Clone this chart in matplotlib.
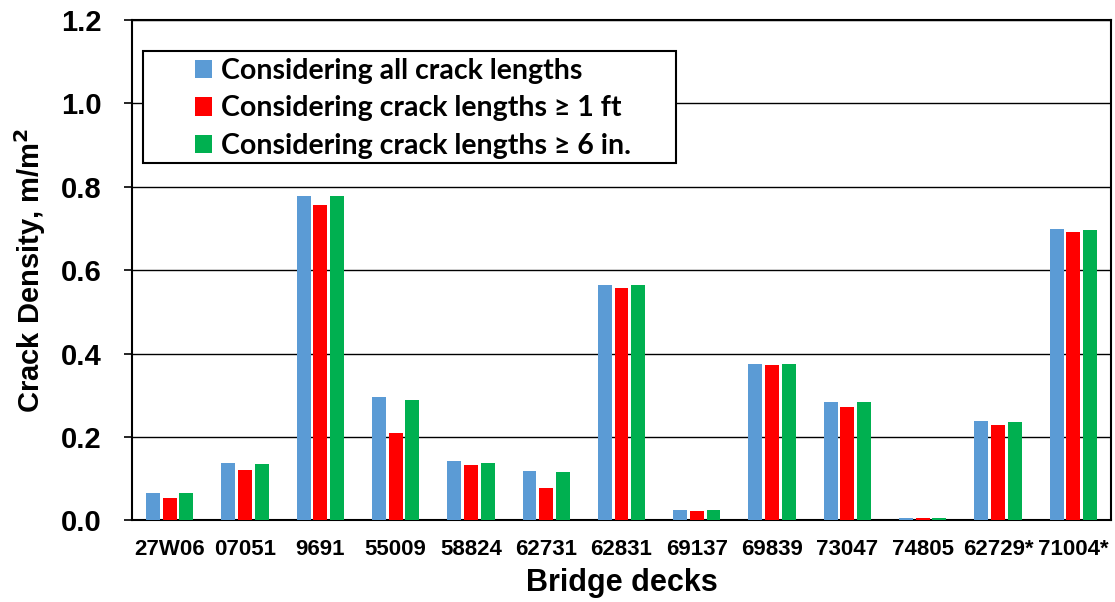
import numpy as np
import matplotlib
matplotlib.use("Agg")
import matplotlib.pyplot as plt
from matplotlib.patches import Rectangle

# values
decks = ["27W06", "07051", "9691", "55009", "58824", "62731", "62831",
         "69137", "69839", "73047", "74805", "62729*", "71004*"]
all_lengths = [0.066, 0.138, 0.779, 0.296, 0.142, 0.119, 0.565,
               0.025, 0.374, 0.284, 0.007, 0.238, 0.698]
over_1ft = [0.054, 0.121, 0.756, 0.209, 0.132, 0.077, 0.558,
            0.023, 0.372, 0.273, 0.006, 0.230, 0.692]
over_6in = [0.066, 0.136, 0.778, 0.288, 0.137, 0.116, 0.565,
            0.025, 0.374, 0.284, 0.007, 0.237, 0.697]
series_names = ["Considering all crack lengths",
                "Considering crack lengths \u2265 1 ft",
                "Considering crack lengths \u2265 6 in."]
colors = ["#5B9BD5", "#FF0000", "#00B050"]

plt.rcParams['font.family'] = ['Liberation Sans', 'DejaVu Sans']

fig = plt.figure(figsize=(11.15, 6.02), dpi=100)
ax = fig.add_axes([0.1184, 0.1354, 0.8780, 0.8314])

x = np.arange(len(decks))
step = 0.222
for i, vals in enumerate([all_lengths, over_1ft, over_6in]):
    ax.bar(x + (i - 1) * step, vals, width=0.185, color=colors[i],
           linewidth=0, label=series_names[i], zorder=3)

ax.set_xlim(-0.5, len(decks) - 0.5)
ax.set_ylim(0, 1.2)
ax.set_yticks(np.arange(0, 1.21, 0.2))
ax.set_yticklabels(["%.1f" % v for v in np.arange(0, 1.21, 0.2)],
                   fontsize=21, fontweight="bold")
ax.set_xticks(x)
ax.set_xticklabels(decks, fontsize=16, fontweight="bold")
ax.tick_params(axis="x", length=0, pad=13)
ax.tick_params(axis="y", length=6, width=1.2, direction="out", pad=16)
ax.yaxis.grid(True, color="black", linewidth=1.0, zorder=0)
for s in ax.spines.values():
    s.set_linewidth(1.5)
    s.set_color("black")

ax.set_xlabel("Bridge decks", fontsize=22, fontweight="bold", labelpad=6)
ax.set_ylabel("Crack Density, m/m$^\\mathbf{2}$", fontsize=21, fontweight="bold", labelpad=9)

# legend box drawn by hand: the reference has a wide empty margin left of the keys
ax.add_patch(Rectangle((0.0112, 0.7137), 0.5445, 0.2243, transform=ax.transAxes,
                       facecolor="white", edgecolor="black", linewidth=1.5,
                       zorder=4, clip_on=False))
leg = ax.legend(loc="upper left", bbox_to_anchor=(0.0644, 0.924), borderaxespad=0,
                frameon=False,
                prop={"family": ["Lato", "DejaVu Sans"], "weight": "bold", "size": 20.5},
                handlelength=0.6, handleheight=0.62, handletextpad=0.32,
                labelspacing=0.4, borderpad=0)
leg.set_zorder(5)

fig.savefig("out.png", dpi=100, facecolor="white")
